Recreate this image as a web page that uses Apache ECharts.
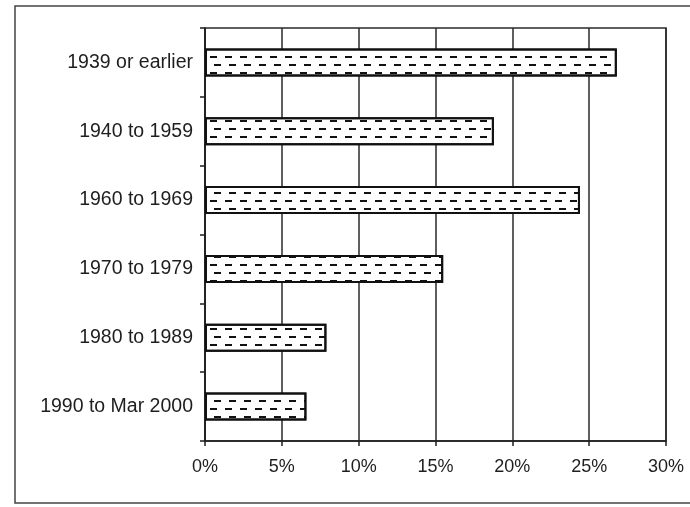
<!DOCTYPE html>
<html>
<head>
<meta charset="utf-8">
<script src="https://cdn.jsdelivr.net/npm/echarts@6/dist/echarts.min.js"></script>
<style>
  html, body { margin: 0; padding: 0; background: #fff; }
  #chart { width: 690px; height: 507px; }
</style>
</head>
<body>
<div id="chart"></div>
<script>
// Share of dwellings by period of construction (percent)
const periods = ['1939 or earlier', '1940 to 1959', '1960 to 1969', '1970 to 1979', '1980 to 1989', '1990 to Mar 2000'];
const shares = [26.8, 18.8, 24.4, 15.5, 7.9, 6.6];
const xTicks = [0, 5, 10, 15, 20, 25, 30];

const ink = '#1e1e1e';
const font = "'Liberation Sans', Arial, sans-serif";

const chart = echarts.init(document.getElementById('chart'), null, { renderer: 'canvas' });

chart.setOption({
  animation: false,
  backgroundColor: '#fff',
  graphic: [{
    type: 'rect',
    shape: { x: 15, y: 6, width: 700, height: 497 },
    style: { fill: 'none', stroke: '#444', lineWidth: 1.5 },
    silent: true
  }],
  grid: {
    left: 205, right: 24, top: 28, bottom: 66,
    show: true, borderColor: '#2a2a2a', borderWidth: 1.5, backgroundColor: 'transparent'
  },
  xAxis: {
    type: 'value',
    min: xTicks[0],
    max: xTicks[xTicks.length - 1],
    interval: xTicks[1] - xTicks[0],
    axisLine: { show: true, lineStyle: { color: ink, width: 1.5 } },
    axisTick: { show: true, length: 5, lineStyle: { color: ink, width: 1.5 } },
    splitLine: { show: true, lineStyle: { color: '#2a2a2a', width: 1.5 } },
    axisLabel: {
      formatter: '{value}%', fontSize: 18, color: ink, fontFamily: font, margin: 17
    }
  },
  yAxis: {
    type: 'category',
    data: periods,
    inverse: true,
    axisLine: { show: true, lineStyle: { color: ink, width: 1.5 } },
    axisTick: { show: true, length: 5, lineStyle: { color: ink, width: 1.5 } },
    splitLine: { show: false },
    axisLabel: { fontSize: 19.5, color: ink, fontFamily: font, margin: 12 }
  },
  series: [{
    type: 'bar',
    data: shares,
    barWidth: 28,
    itemStyle: {
      color: '#fff',
      borderColor: '#111',
      borderWidth: 2,
      decal: {
        symbol: 'rect',
        symbolSize: 1,
        color: '#111',
        dashArrayX: [[7, 8], [0, 4, 7, 4]],
        dashArrayY: [2, 6],
        rotation: 0
      }
    }
  }]
});
</script>
</body>
</html>
